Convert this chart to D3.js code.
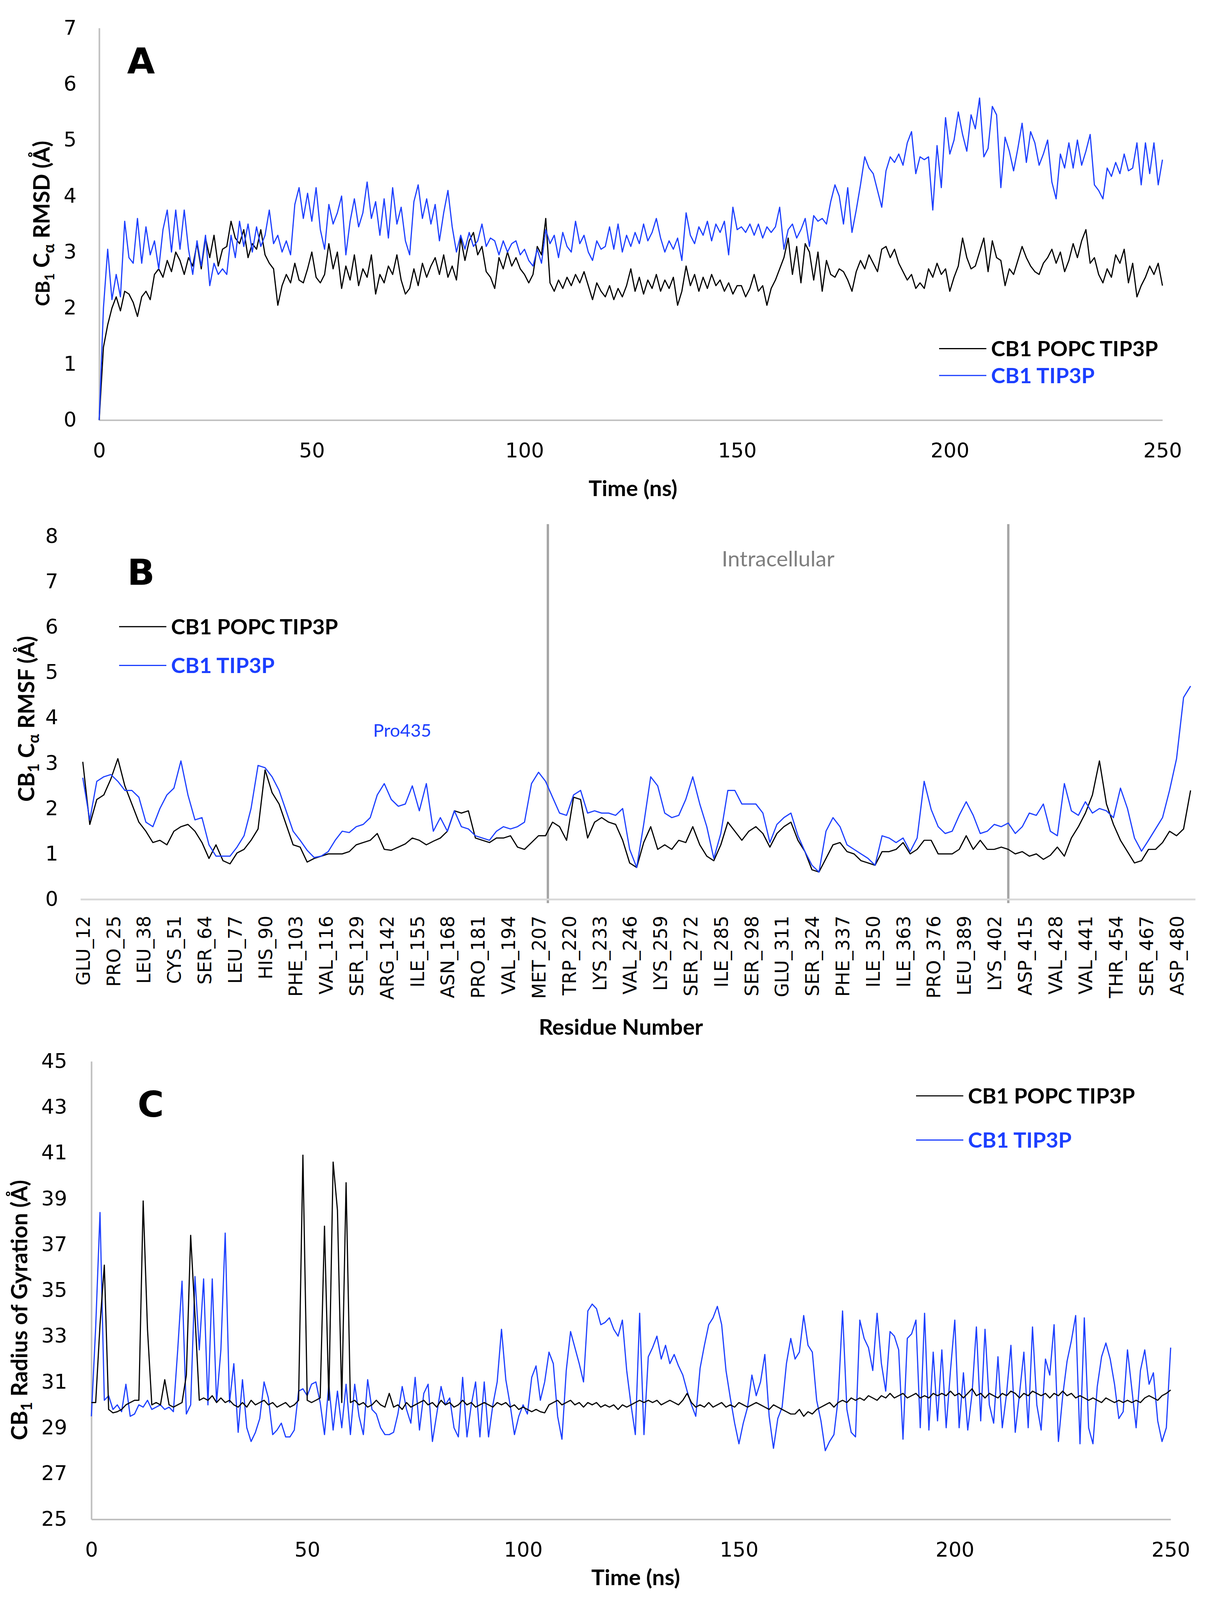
<!DOCTYPE html>
<html>
<head>
<meta charset="utf-8">
<script src="https://cdn.jsdelivr.net/npm/d3@7"></script>
<style>
  html, body { margin: 0; padding: 0; background: #fff; overflow: hidden; }
  svg { display: block; }
</style>
</head>
<body>
<div id="chart"></div>
<script>
// ---- Panel A: C-alpha RMSD, one value per ns (0..250) ----
const rmsdPopc = [
  0, 1.3, 1.7, 2.0, 2.2, 1.95, 2.3, 2.25, 2.1, 1.85,
  2.2, 2.3, 2.15, 2.6, 2.7, 2.55, 2.85, 2.65, 3.0, 2.85,
  2.6, 2.9, 2.75, 3.15, 2.7, 3.25, 2.9, 3.3, 2.75, 3.05,
  3.1, 3.55, 3.25, 3.15, 3.4, 2.9, 3.15, 3.05, 3.4, 2.95,
  2.8, 2.7, 2.05, 2.4, 2.6, 2.45, 2.8, 2.5, 2.45, 2.7,
  3.0, 2.55, 2.45, 2.6, 3.15, 2.7, 3.0, 2.35, 2.75, 2.5,
  2.95, 2.4, 2.7, 2.55, 2.95, 2.25, 2.6, 2.45, 2.75, 2.6,
  2.95, 2.5, 2.25, 2.35, 2.7, 2.4, 2.8, 2.55, 2.75, 2.9,
  2.6, 2.95, 2.55, 2.75, 2.5, 3.25, 2.85, 3.2, 3.35, 2.95,
  3.1, 2.65, 2.55, 2.35, 2.9, 2.7, 3.0, 2.75, 2.9, 2.7,
  2.6, 2.45, 2.6, 3.1, 2.95, 3.6, 2.45, 2.3, 2.5, 2.35,
  2.55, 2.4, 2.6, 2.45, 2.65, 2.4, 2.15, 2.45, 2.3, 2.2,
  2.4, 2.15, 2.35, 2.2, 2.4, 2.7, 2.3, 2.55, 2.25, 2.5,
  2.35, 2.6, 2.3, 2.5, 2.35, 2.55, 2.05, 2.3, 2.75, 2.4,
  2.6, 2.3, 2.55, 2.35, 2.6, 2.4, 2.5, 2.3, 2.45, 2.25,
  2.4, 2.4, 2.2, 2.35, 2.6, 2.3, 2.4, 2.05, 2.35, 2.5,
  2.7, 2.9, 3.25, 2.6, 3.1, 2.45, 3.15, 3.0, 2.5, 3.0,
  2.3, 2.85, 2.6, 2.55, 2.7, 2.65, 2.5, 2.3, 2.65, 2.85,
  2.7, 2.95, 2.8, 2.65, 3.05, 3.1, 2.9, 3.05, 2.8, 2.65,
  2.5, 2.6, 2.35, 2.45, 2.35, 2.7, 2.55, 2.8, 2.6, 2.7,
  2.3, 2.55, 2.75, 3.25, 2.9, 2.7, 2.75, 3.0, 3.25, 2.65,
  3.2, 2.9, 2.85, 2.4, 2.7, 2.6, 2.85, 3.1, 2.9, 2.75,
  2.65, 2.6, 2.8, 2.9, 3.05, 2.8, 3.0, 2.65, 2.85, 3.15,
  2.9, 3.2, 3.4, 2.8, 2.9, 2.6, 2.45, 2.7, 2.55, 2.95,
  2.8, 3.05, 2.45, 2.8, 2.2, 2.4, 2.55, 2.75, 2.6, 2.8,
  2.4
];
const rmsdTip3p = [
  0, 2.0, 3.05, 2.15, 2.6, 2.2, 3.55, 2.9, 2.8, 3.6,
  2.8, 3.45, 2.95, 3.2, 2.7, 3.4, 3.75, 3.0, 3.75, 3.05,
  3.75, 3.05, 2.6, 3.2, 2.75, 3.3, 2.4, 2.8, 2.6, 2.7,
  2.6, 3.3, 2.9, 3.55, 3.1, 3.5, 3.0, 3.45, 3.1, 3.3,
  3.75, 3.15, 3.3, 3.0, 3.2, 2.95, 3.85, 4.15, 3.6, 4.05,
  3.55, 4.15, 3.4, 3.05, 3.85, 3.5, 3.7, 4.0, 2.95, 3.55,
  3.95, 3.45, 3.7, 4.25, 3.6, 3.9, 3.3, 3.95, 3.25, 4.15,
  3.5, 3.8, 3.2, 2.95, 3.9, 4.2, 3.6, 3.95, 3.5, 3.85,
  3.2, 3.7, 4.1, 3.45, 3.0, 3.3, 3.05, 3.35, 3.1, 3.2,
  3.5, 3.1, 3.25, 3.2, 2.95, 3.2, 3.0, 3.15, 3.2, 2.95,
  3.05, 2.85, 2.75, 3.05, 2.8, 3.4, 3.15, 3.3, 2.9, 3.35,
  3.1, 3.0, 3.55, 3.15, 3.3, 3.0, 2.85, 3.2, 3.05, 3.1,
  3.45, 3.05, 3.5, 3.0, 3.3, 3.1, 3.35, 3.15, 3.5, 3.2,
  3.35, 3.6, 3.25, 3.0, 3.2, 3.05, 3.25, 2.85, 3.7, 3.3,
  3.15, 3.45, 3.3, 3.55, 3.2, 3.5, 3.35, 3.55, 2.95, 3.8,
  3.4, 3.45, 3.35, 3.5, 3.3, 3.5, 3.25, 3.45, 3.35, 3.45,
  3.8, 3.05, 3.4, 3.5, 3.25, 3.4, 3.6, 3.1, 3.65, 3.55,
  3.6, 3.5, 3.9, 4.2, 4.0, 3.5, 4.15, 3.35, 3.75, 4.2,
  4.7, 4.5, 4.4, 4.1, 3.8, 4.45, 4.7, 4.6, 4.75, 4.55,
  4.95, 5.15, 4.4, 4.7, 4.65, 4.7, 3.75, 4.9, 4.15, 5.4,
  4.75, 5.0, 5.5, 5.1, 4.8, 5.45, 5.2, 5.75, 4.7, 4.85,
  5.6, 5.45, 4.15, 5.05, 4.8, 4.45, 4.85, 5.3, 4.6, 5.15,
  4.95, 4.55, 4.75, 5.0, 4.25, 3.95, 4.75, 4.5, 4.95, 4.5,
  5.0, 4.55, 4.8, 5.1, 4.2, 4.1, 3.95, 4.5, 4.35, 4.6,
  4.4, 4.75, 4.45, 4.5, 4.95, 4.2, 4.95, 4.4, 4.95, 4.2,
  4.65
];
const timeTicks = [0, 50, 100, 150, 200, 250];
const rmsdTicks = [0, 1, 2, 3, 4, 5, 6, 7];

// ---- Panel B: C-alpha RMSF per residue, sampled every 3 residues (12..486) ----
const residueLabels = [
  "GLU_12", "PRO_25", "LEU_38", "CYS_51", "SER_64", "LEU_77", "HIS_90", "PHE_103",
  "VAL_116", "SER_129", "ARG_142", "ILE_155", "ASN_168", "PRO_181", "VAL_194", "MET_207",
  "TRP_220", "LYS_233", "VAL_246", "LYS_259", "SER_272", "ILE_285", "SER_298", "GLU_311",
  "SER_324", "PHE_337", "ILE_350", "ILE_363", "PRO_376", "LEU_389", "LYS_402", "ASP_415",
  "VAL_428", "VAL_441", "THR_454", "SER_467", "ASP_480"
];
const rmsfResidues = d3.range(12, 487, 3);
const rmsfPopc = [
  3.03, 1.65, 2.2, 2.3, 2.65, 3.1, 2.5, 2.1, 1.7, 1.5,
  1.25, 1.3, 1.2, 1.5, 1.6, 1.65, 1.5, 1.25, 0.9, 1.2,
  0.85, 0.78, 1.02, 1.1, 1.3, 1.55, 2.85, 2.35, 2.1, 1.65,
  1.2, 1.15, 0.82, 0.9, 0.95, 1.0, 1.0, 1.0, 1.05, 1.2,
  1.25, 1.3, 1.45, 1.1, 1.08, 1.15, 1.22, 1.35, 1.3, 1.2,
  1.28, 1.35, 1.5, 1.95, 1.9, 1.95, 1.35, 1.3, 1.25, 1.35,
  1.35, 1.4, 1.15, 1.1, 1.25, 1.4, 1.4, 1.7, 1.6, 1.3,
  2.25, 2.2, 1.35, 1.7, 1.8, 1.7, 1.65, 1.3, 0.8, 0.7,
  1.25, 1.6, 1.1, 1.2, 1.1, 1.3, 1.25, 1.6, 1.2, 0.95,
  0.85, 1.2, 1.7, 1.5, 1.3, 1.5, 1.6, 1.45, 1.15, 1.45,
  1.6, 1.7, 1.3, 1.05, 0.65, 0.6, 0.9, 1.2, 1.25, 1.05,
  1.0, 0.85, 0.8, 0.75, 1.05, 1.05, 1.1, 1.25, 1.0, 1.1,
  1.3, 1.3, 1.0, 1.0, 1.0, 1.1, 1.4, 1.1, 1.3, 1.1,
  1.1, 1.15, 1.1, 1.0, 1.05, 0.95, 1.0, 0.88, 0.97, 1.15,
  0.95, 1.35, 1.6, 1.9, 2.3, 3.05, 2.1, 1.65, 1.3, 1.05,
  0.8, 0.85, 1.1, 1.1, 1.25, 1.5, 1.4, 1.55, 2.4
];
const rmsfTip3p = [
  2.68, 1.75, 2.6, 2.7, 2.75, 2.6, 2.4, 2.4, 2.25, 1.7,
  1.6, 2.0, 2.3, 2.45, 3.05, 2.3, 1.75, 1.8, 1.2, 0.95,
  0.95, 0.95, 1.15, 1.4, 2.0, 2.95, 2.9, 2.7, 2.4, 1.95,
  1.5, 1.3, 1.08, 0.92, 0.95, 1.05, 1.3, 1.5, 1.47, 1.6,
  1.65, 1.8, 2.3, 2.55, 2.2, 2.05, 2.1, 2.5, 1.95, 2.55,
  1.5, 1.8, 1.5, 1.95, 1.6, 1.55, 1.4, 1.35, 1.3, 1.5,
  1.6, 1.55, 1.6, 1.7, 2.55, 2.8, 2.6, 2.25, 1.9, 1.85,
  2.3, 2.4, 1.9, 1.95, 1.9, 1.9, 1.85, 2.0, 1.1, 0.7,
  1.65, 2.7, 2.5, 1.9, 1.8, 1.85, 2.2, 2.7, 2.1, 1.6,
  0.9, 1.45, 2.4, 2.4, 2.1, 2.1, 2.1, 1.9, 1.25, 1.65,
  1.8, 1.9, 1.4, 1.05, 0.75, 0.6, 1.5, 1.8, 1.6, 1.2,
  1.1, 1.0, 0.9, 0.75, 1.4, 1.35, 1.25, 1.35, 1.05, 1.35,
  2.6, 1.98, 1.6, 1.45, 1.5, 1.85, 2.15, 1.85, 1.45, 1.5,
  1.65, 1.6, 1.68, 1.45, 1.6, 1.9, 1.85, 2.1, 1.5, 1.4,
  2.55, 1.95, 1.85, 2.15, 1.9, 2.0, 1.95, 1.8, 2.45, 2.0,
  1.35, 1.06, 1.3, 1.55, 1.8, 2.4, 3.1, 4.45, 4.7
];
const rmsfTicks = [0, 1, 2, 3, 4, 5, 6, 7, 8];
const intracellularBounds = [211, 408];

// ---- Panel C: radius of gyration, one value per ns (0..250) ----
const rgPopc = [
  30.1, 30.1, 33.5, 36.1, 29.8, 29.65, 29.7, 29.8, 30.0, 30.1,
  30.2, 30.2, 38.9, 33.3, 30.0, 30.1, 30.0, 31.1, 30.0, 29.9,
  30.0, 30.1, 31.3, 37.4, 33.9, 30.2, 30.3, 30.2, 30.4, 30.1,
  30.3, 30.1, 30.2, 30.0, 29.9, 30.1, 29.9, 30.2, 30.0, 30.1,
  30.2, 30.0, 30.1, 29.9, 30.0, 30.1, 29.9, 30.0, 30.2, 40.9,
  30.2, 30.1, 30.2, 30.3, 37.8, 30.2, 40.6, 38.5, 30.1, 39.7,
  30.1, 30.2, 30.0, 30.1, 29.9, 30.0, 30.2, 30.0, 29.9, 30.5,
  29.9, 30.0, 29.8, 30.1, 29.9, 30.0, 30.1, 30.2, 30.0, 30.1,
  29.9, 30.2, 30.0, 30.1, 29.9, 30.0, 30.2, 30.0, 30.1, 29.9,
  30.0, 30.1, 30.0, 29.9, 30.1, 30.0, 30.1, 29.9, 30.0, 29.8,
  29.9, 29.8, 29.7, 29.8, 29.7, 29.65, 30.0, 30.1, 30.2, 30.0,
  30.1, 30.2, 30.0, 30.1, 29.9, 30.1, 30.0, 30.1, 29.9, 30.0,
  29.9, 30.0, 29.8, 30.0, 29.9, 30.0, 30.1, 30.2, 30.1, 30.2,
  30.1, 30.2, 30.0, 30.1, 30.2, 30.1, 30.0, 30.2, 30.5, 30.1,
  29.9, 30.0, 29.9, 30.1, 29.9, 30.0, 30.1, 29.9, 30.0, 29.9,
  30.1, 30.0, 29.9, 30.0, 30.1, 30.0, 29.9, 29.8, 30.0, 29.9,
  29.8, 29.7, 29.6, 29.6, 29.8, 29.5, 29.7, 29.6, 29.8, 29.9,
  30.0, 30.1, 29.9, 30.1, 30.2, 30.1, 30.3, 30.2, 30.3, 30.2,
  30.4, 30.3, 30.2, 30.4, 30.3, 30.5, 30.3, 30.4, 30.5, 30.3,
  30.4, 30.5, 30.3, 30.4, 30.3, 30.5, 30.4, 30.5, 30.4, 30.6,
  30.4, 30.5, 30.3, 30.5, 30.7, 30.4, 30.5, 30.3, 30.5, 30.4,
  30.3, 30.5, 30.4, 30.6, 30.5, 30.3, 30.5, 30.4, 30.6, 30.5,
  30.4, 30.5, 30.3, 30.5, 30.4, 30.6, 30.4, 30.5, 30.3, 30.4,
  30.3, 30.2, 30.3, 30.2, 30.1, 30.3, 30.2, 30.1, 30.2, 30.1,
  30.2, 30.1, 30.2, 30.1, 30.3, 30.4, 30.3, 30.2, 30.4, 30.5,
  30.65
];
const rgTip3p = [
  29.5, 33.4, 38.4, 30.2, 30.4, 29.8, 30.0, 29.7, 30.9, 29.5,
  29.6, 30.0, 29.9, 30.2, 29.8, 29.9, 30.0, 29.8, 29.9, 29.7,
  32.4, 35.4, 29.6, 30.0, 35.6, 32.4, 35.5, 30.0, 35.5, 30.1,
  32.4, 37.5, 30.1, 31.8, 28.8, 31.1, 29.0, 28.4, 28.8, 29.4,
  31.0, 30.3, 28.7, 28.9, 29.2, 28.6, 28.6, 28.9, 30.6, 30.7,
  30.4, 30.9, 31.0, 30.1, 28.7, 30.9, 28.9, 30.6, 29.0, 30.9,
  28.7, 30.9, 29.5, 28.7, 31.1, 29.8, 29.6, 29.0, 28.7, 28.7,
  28.8, 29.6, 30.8, 29.8, 29.2, 31.2, 28.9, 30.5, 30.9, 28.4,
  29.6, 30.8, 30.0, 30.3, 29.0, 28.6, 31.2, 28.6, 30.0, 31.0,
  28.6, 31.0, 28.6, 30.0, 31.0, 33.3, 31.1, 30.0, 28.7, 29.5,
  30.0, 29.6, 31.2, 31.7, 30.2, 31.0, 32.3, 31.8, 29.5, 28.5,
  31.5, 33.2, 32.5, 31.8, 31.0, 34.1, 34.4, 34.2, 33.5, 33.6,
  33.8, 33.3, 33.0, 33.7, 31.5, 30.0, 28.7, 34.0, 28.7, 32.1,
  32.5, 33.0, 32.0, 32.6, 31.8, 32.2, 31.7, 31.3, 30.6, 30.0,
  29.5, 31.6, 32.6, 33.5, 33.8, 34.3, 33.5, 31.5, 30.3, 29.2,
  28.3, 29.2, 29.9, 31.3, 30.4, 31.0, 32.2, 29.5, 28.1, 29.4,
  29.9, 31.8, 32.9, 32.0, 32.3, 33.9, 32.6, 32.3, 30.2, 29.3,
  28.0, 28.4, 28.7, 30.3, 34.1, 29.8, 28.8, 28.6, 33.7, 32.9,
  32.5, 31.5, 34.0, 31.8, 30.6, 33.2, 33.0, 32.4, 28.5, 32.9,
  33.1, 33.7, 29.0, 34.0, 28.9, 32.3, 29.3, 32.4, 29.0, 31.5,
  33.7, 29.0, 31.4, 28.9, 30.5, 33.4, 29.3, 33.3, 30.0, 29.2,
  32.1, 29.0, 30.5, 32.6, 28.8, 30.5, 32.3, 29.0, 33.4, 30.0,
  28.9, 32.0, 31.3, 33.5, 28.4, 30.4, 31.9, 32.8, 33.9, 28.3,
  33.8, 29.0, 28.3, 30.8, 32.1, 32.7, 32.0, 30.9, 29.4, 29.7,
  32.4, 30.7, 29.0, 31.5, 32.4, 30.9, 31.4, 29.3, 28.4, 29.0,
  32.5
];
const rgTicks = [25, 27, 29, 31, 33, 35, 37, 39, 41, 43, 45];

const seriesNames = ["CB1 POPC TIP3P", "CB1 TIP3P"];

// ---- drawing ----
// layout is laid out on a 3109 x 4167 grid and stretched to the real viewport
const W = 3109, H = 4167;
const BLACK = '#000000';
const BLUE = '#1c3fff';
const tickFont = '"DejaVu Sans", Verdana, sans-serif';
const titleFont = 'Lato, "Open Sans", sans-serif';

const svg = d3.select('#chart')
    .append('svg')
    .attr('viewBox', `0 0 ${W} ${H}`)
    .attr('preserveAspectRatio', 'none')
    .attr('width', window.innerWidth || W)
    .attr('height', window.innerHeight || H);

svg.append('rect').attr('width', W).attr('height', H).attr('fill', '#fff');

function styleAxis(g, color, width, size) {
    g.select('.domain').attr('stroke', color).attr('stroke-width', width);
    g.selectAll('.tick line').remove();
    g.selectAll('.tick text')
        .attr('fill', '#000')
        .style('font-family', tickFont)
        .style('font-size', size + 'px');
}

function drawLine(g, values, x, y, color) {
    const line = d3.line()
        .x((d, i) => x(i))
        .y(d => y(d));
    g.append('path')
        .datum(values)
        .attr('fill', 'none')
        .attr('stroke', color)
        .attr('stroke-width', 3)
        .attr('stroke-linejoin', 'round')
        .attr('d', line);
}

// rotated y title; parts = [text, fontSize, baseline shift]
function yTitle(x, y, parts) {
    const t = svg.append('text')
        .attr('transform', `translate(${x},${y}) rotate(-90)`)
        .attr('text-anchor', 'middle')
        .style('font-family', titleFont)
        .style('font-weight', 700);
    let prev = -20; // centres the capitals on x
    parts.forEach(p => {
        t.append('tspan')
            .attr('dy', p[2] - prev)
            .style('font-size', p[1] + 'px')
            .text(p[0]);
        prev = p[2];
    });
}

function legend(x, y, gap) {
    [BLACK, BLUE].forEach((c, i) => {
        const yy = y + i * gap;
        svg.append('line')
            .attr('x1', x).attr('x2', x + 121)
            .attr('y1', yy).attr('y2', yy)
            .attr('stroke', c).attr('stroke-width', 3);
        svg.append('text')
            .attr('x', x + 133).attr('y', yy)
            .attr('dy', '0.36em')
            .attr('fill', c)
            .style('font-family', titleFont)
            .style('font-weight', 700)
            .style('font-size', '55px')
            .text(seriesNames[i]);
    });
}

function panelLetter(x, y, s) {
    svg.append('text')
        .attr('x', x).attr('y', y)
        .attr('dy', '0.36em')
        .attr('text-anchor', 'middle')
        .style('font-family', tickFont)
        .style('font-weight', 700)
        .style('font-size', '92px')
        .text(s);
}

function xTitle(x, y, s) {
    svg.append('text')
        .attr('x', x).attr('y', y)
        .attr('dy', '0.35em')
        .attr('text-anchor', 'middle')
        .style('font-family', titleFont)
        .style('font-weight', 700)
        .style('font-size', '57px')
        .text(s);
}

const intFmt = d3.format('d');

// Panel A
const xA = d3.scaleLinear().domain([0, 250]).range([254, 2977]);
const yA = d3.scaleLinear().domain([0, 7]).range([1094, 73]);

svg.append('g')
    .attr('transform', `translate(0,${yA(0)})`)
    .call(d3.axisBottom(xA).tickValues(timeTicks).tickFormat(intFmt).tickSize(0).tickPadding(60))
    .call(g => styleAxis(g, '#bfbfbf', 4, 52));
svg.append('g')
    .attr('transform', `translate(${xA(0)},0)`)
    .call(d3.axisLeft(yA).tickValues(rmsdTicks).tickFormat(intFmt).tickSize(0).tickPadding(58))
    .call(g => styleAxis(g, '#bfbfbf', 4, 52));

const plotA = svg.append('g');
drawLine(plotA, rmsdPopc, xA, yA, BLACK);
drawLine(plotA, rmsdTip3p, xA, yA, BLUE);

panelLetter(361, 158, 'A');
legend(2405, 908, 70);
xTitle(1621, 1272, 'Time (ns)');
yTitle(107, 582, [['CB', 50, 0], ['1', 34, 12], [' C', 58, 0], ['α', 40, 12], [' RMSD (Å)', 58, 0]]);

// Panel B
const xB = d3.scaleLinear().domain([11, 488]).range([206, 3061]);
const yB = d3.scaleLinear().domain([0, 8]).range([2342, 1397]);
const labelResidues = residueLabels.map(s => +s.split('_')[1]);

intracellularBounds.forEach(r => {
    svg.append('line')
        .attr('x1', xB(r)).attr('x2', xB(r))
        .attr('y1', 1365).attr('y2', 2352)
        .attr('stroke', '#a6a6a6').attr('stroke-width', 6);
});

const axB = svg.append('g')
    .attr('transform', `translate(0,${yB(0)})`)
    .call(d3.axisBottom(xB).tickValues(labelResidues)
        .tickFormat((d, i) => residueLabels[i]).tickSize(0))
    .call(g => styleAxis(g, '#d9d9d9', 5, 48));
axB.selectAll('.tick text')
    .attr('transform', 'rotate(-90)')
    .attr('text-anchor', 'end')
    .attr('x', -43)
    .attr('y', 0)
    .attr('dy', '0.36em');

svg.append('g')
    .attr('transform', `translate(${xB(11)},0)`)
    .call(d3.axisLeft(yB).tickValues(rmsfTicks).tickFormat(intFmt).tickSize(0).tickPadding(57))
    .call(g => styleAxis(g, 'none', 0, 52))
    .call(g => g.select('.domain').remove());

const lineB = d3.line()
    .x((d, i) => xB(rmsfResidues[i]))
    .y(d => yB(d));
[[rmsfPopc, BLACK], [rmsfTip3p, BLUE]].forEach(s => {
    svg.append('path')
        .datum(s[0])
        .attr('fill', 'none')
        .attr('stroke', s[1])
        .attr('stroke-width', 3)
        .attr('stroke-linejoin', 'round')
        .attr('d', lineB);
});

svg.append('text')
    .attr('x', (xB(intracellularBounds[0]) + xB(intracellularBounds[1])) / 2)
    .attr('y', 1456)
    .attr('dy', '0.35em')
    .attr('text-anchor', 'middle')
    .attr('fill', '#7f7f7f')
    .style('font-family', titleFont)
    .style('font-size', '56px')
    .text('Intracellular');

svg.append('text')
    .attr('x', 1030).attr('y', 1903)
    .attr('dy', '0.35em')
    .attr('text-anchor', 'middle')
    .attr('fill', BLUE)
    .style('font-family', titleFont)
    .style('font-size', '46px')
    .text('Pro435');

panelLetter(361, 1490, 'B');
legend(305, 1632, 101);
xTitle(1590, 2675, 'Residue Number');
yTitle(68, 1872, [['CB', 58, 0], ['1', 40, 12], [' C', 58, 0], ['α', 40, 12], [' RMSF (Å)', 58, 0]]);

// Panel C
const xC = d3.scaleLinear().domain([0, 250]).range([234, 2998]);
const yC = d3.scaleLinear().domain([25, 45]).range([3957, 2764]);

svg.append('g')
    .attr('transform', `translate(0,${yC(25)})`)
    .call(d3.axisBottom(xC).tickValues(timeTicks).tickFormat(intFmt).tickSize(0).tickPadding(60))
    .call(g => styleAxis(g, '#bfbfbf', 4, 52));
svg.append('g')
    .attr('transform', `translate(${xC(0)},0)`)
    .call(d3.axisLeft(yC).tickValues(rgTicks).tickFormat(intFmt).tickSize(0).tickPadding(62))
    .call(g => styleAxis(g, '#bfbfbf', 4, 52));

const plotC = svg.append('g');
drawLine(plotC, rgTip3p, xC, yC, BLUE);
drawLine(plotC, rgPopc, xC, yC, BLACK);

panelLetter(386, 2875, 'C');
legend(2346, 2854, 115);
xTitle(1628, 4108, 'Time (ns)');
yTitle(50, 3412, [['CB', 58, 0], ['1', 40, 12], [' Radius of Gyration (Å)', 58, 0]]);
</script>
</body>
</html>
